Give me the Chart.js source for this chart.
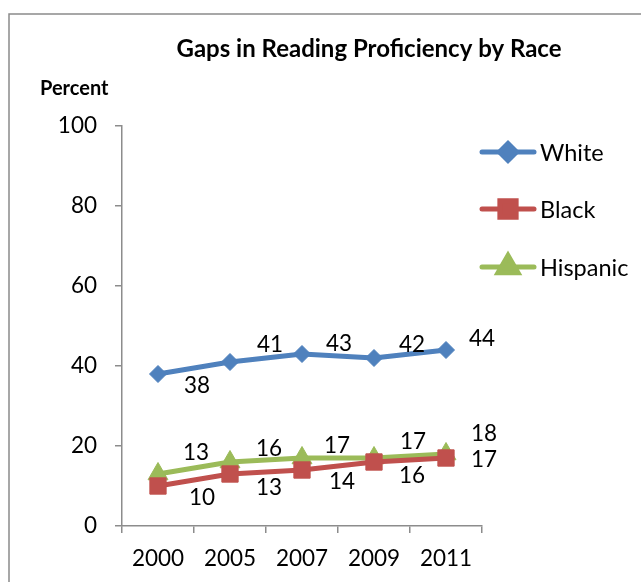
<!DOCTYPE html>
<html>
<head>
<meta charset="utf-8">
<title>Gaps in Reading Proficiency by Race</title>
<script src="https://cdn.jsdelivr.net/npm/chart.js@4.4.1/dist/chart.umd.min.js"></script>
<style>
  html, body { margin: 0; padding: 0; background: #ffffff; }
  #wrap { width: 641px; height: 582px; position: relative; }
</style>
</head>
<body>
<div id="wrap"><canvas id="chart" width="641" height="582"></canvas></div>
<script>
// Survey years on the x axis
const years = ['2000', '2005', '2007', '2009', '2011'];

// Percent of students proficient in reading, by group
const white    = [38, 41, 43, 42, 44];
const black    = [10, 13, 14, 16, 17];
const hispanic = [13, 16, 17, 17, 18];

// Value-axis tick labels
const yTicks = [0, 20, 40, 60, 80, 100];

const chartTitle = 'Gaps in Reading Proficiency by Race';
const axisCaption = 'Percent';

const FONT = 'Lato, "Open Sans", "Liberation Sans", sans-serif';
const BLUE = '#4F81BD';
const RED = '#C0504D';
const GREEN = '#9BBB59';
const AXIS = '#8c8c8c';

// Outer frame around the whole chart
const framePlugin = {
  id: 'frame',
  beforeDraw(chart) {
    const ctx = chart.ctx;
    ctx.save();
    ctx.fillStyle = '#ffffff';
    ctx.fillRect(0, 0, chart.width, chart.height);
    ctx.strokeStyle = '#8a8a8a';
    ctx.lineWidth = 1.5;
    ctx.strokeRect(9, 14, chart.width + 20, chart.height + 20);
    ctx.restore();
  }
};

// Title and the small unit caption over the value axis
const headerPlugin = {
  id: 'header',
  afterDraw(chart) {
    const ctx = chart.ctx;
    ctx.save();
    ctx.fillStyle = '#000000';
    ctx.textBaseline = 'alphabetic';
    ctx.font = 'bold 24px ' + FONT;
    ctx.textAlign = 'center';
    ctx.fillText(chartTitle, 369, 57);
    ctx.font = 'bold 20px ' + FONT;
    ctx.textAlign = 'left';
    ctx.fillText(axisCaption, 40, 95);
    ctx.restore();
  }
};

// Value labels placed beside each marker
const valueLabelPlugin = {
  id: 'valueLabels',
  afterDatasetsDraw(chart) {
    const ctx = chart.ctx;
    ctx.save();
    ctx.font = '22.5px ' + FONT;
    ctx.fillStyle = '#000000';
    ctx.textAlign = 'center';
    ctx.textBaseline = 'middle';
    chart.data.datasets.forEach((ds, di) => {
      const meta = chart.getDatasetMeta(di);
      const offs = ds.labelOffsets || [];
      meta.data.forEach((pt, i) => {
        const o = offs[i] || [0, -18];
        ctx.fillText(String(ds.data[i]), pt.x + o[0], pt.y + o[1]);
      });
    });
    ctx.restore();
  }
};

// Legend on the right: line sample with its marker, then the name
const sideLegendPlugin = {
  id: 'sideLegend',
  afterDraw(chart) {
    const ctx = chart.ctx;
    const rows = [152, 209, 267];
    ctx.save();
    chart.data.datasets.forEach((ds, i) => {
      const y = rows[i];
      ctx.strokeStyle = ds.borderColor;
      ctx.lineWidth = ds.borderWidth;
      ctx.lineCap = 'round';
      ctx.beginPath();
      ctx.moveTo(482, y);
      ctx.lineTo(534, y);
      ctx.stroke();
      ctx.fillStyle = ds.pointBackgroundColor;
      ctx.strokeStyle = ds.pointBorderColor;
      Chart.helpers.drawPoint(ctx, {
        pointStyle: ds.pointStyle,
        radius: ds.pointRadius,
        rotation: 0,
        borderWidth: 1
      }, 508, y);
      ctx.fillStyle = '#000000';
      ctx.font = '23.5px ' + FONT;
      ctx.textAlign = 'left';
      ctx.textBaseline = 'middle';
      ctx.fillText(ds.label, 540, y + 1);
    });
    ctx.restore();
  }
};

function series(label, values, color, style, radius, offsets) {
  return {
    label: label,
    data: values,
    borderColor: color,
    backgroundColor: color,
    borderWidth: 5,
    borderCapStyle: 'round',
    borderJoinStyle: 'round',
    pointStyle: style,
    pointRadius: radius,
    pointHoverRadius: radius,
    pointBackgroundColor: color,
    pointBorderColor: color,
    pointBorderWidth: 1,
    tension: 0,
    fill: false,
    labelOffsets: offsets
  };
}

new Chart(document.getElementById('chart'), {
  type: 'line',
  data: {
    labels: years,
    datasets: [
      series('White', white, BLUE, 'rectRot', 8.5,
        [[39, 12], [40, -17], [37, -10], [38, -13], [36, -11]]),
      series('Black', black, RED, 'rect', 11.5,
        [[44, 12], [39, 14], [40, 12], [38, 14], [38, 2]]),
      series('Hispanic', hispanic, GREEN, 'triangle', 11.5,
        [[38, -21], [39, -13], [35, -12], [39, -16], [38, -20]])
    ]
  },
  options: {
    responsive: false,
    animation: false,
    devicePixelRatio: 1,
    events: [],
    layout: { padding: { top: 126, left: 0, right: 159, bottom: 0 } },
    plugins: {
      legend: { display: false },
      title: { display: false },
      tooltip: { enabled: false }
    },
    scales: {
      x: {
        type: 'category',
        offset: true,
        afterFit(scale) { scale.height = 56; },
        grid: {
          offset: true,
          drawOnChartArea: false,
          drawTicks: true,
          tickLength: 7,
          color: AXIS,
          lineWidth: 1.5
        },
        border: { display: true, color: AXIS, width: 1.5 },
        ticks: {
          color: '#000000',
          font: { family: FONT, size: 22.5 },
          padding: 12,
          maxRotation: 0,
          autoSkip: false
        }
      },
      y: {
        min: yTicks[0],
        max: yTicks[yTicks.length - 1],
        afterFit(scale) { scale.width = 122; },
        afterBuildTicks(scale) {
          scale.ticks = yTicks.map(v => ({ value: v }));
        },
        grid: {
          drawOnChartArea: false,
          drawTicks: true,
          tickLength: 7,
          color: AXIS,
          lineWidth: 1.5
        },
        border: { display: true, color: AXIS, width: 1.5 },
        ticks: {
          color: '#000000',
          font: { family: FONT, size: 22.5 },
          padding: 18
        }
      }
    }
  },
  plugins: [framePlugin, headerPlugin, valueLabelPlugin, sideLegendPlugin]
});
</script>
</body>
</html>
